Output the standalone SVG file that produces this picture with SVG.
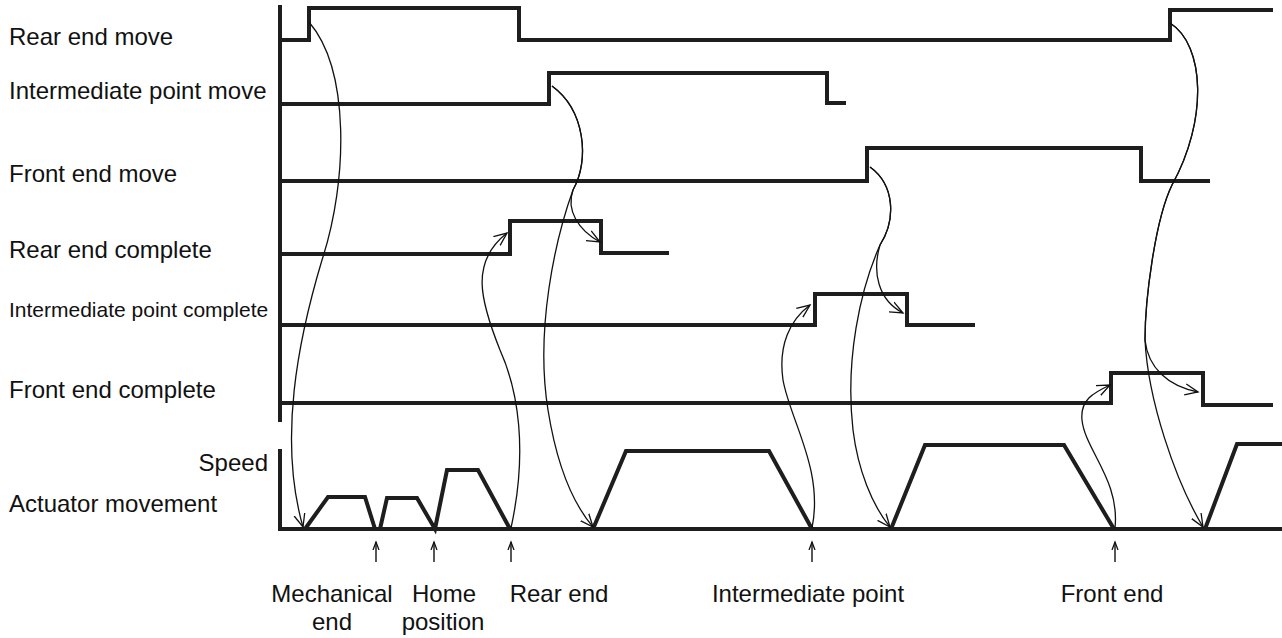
<svg xmlns="http://www.w3.org/2000/svg" width="1282" height="638" viewBox="0 0 1282 638">
<style>
.sig{fill:none;stroke:#1e1e1e;stroke-width:4;stroke-linejoin:miter;stroke-linecap:butt}
.con{fill:none;stroke:#111;stroke-width:1.3}
.tk{fill:none;stroke:#111;stroke-width:1.4}
text{font-family:"Liberation Sans",Arial,sans-serif;font-size:24px;fill:#111}
.sm{font-size:21px}
.c{text-anchor:middle}
</style>
<defs>
<marker id="arr" markerWidth="16" markerHeight="14" refX="13" refY="7" orient="auto" markerUnits="userSpaceOnUse">
<path d="M0,1.5 L13,7 L0,12.5" fill="none" stroke="#111" stroke-width="1.3"/>
</marker>
<marker id="up" markerWidth="10" markerHeight="10" refX="8" refY="4" orient="auto" markerUnits="userSpaceOnUse">
<path d="M0,1 L8,4 L0,7" fill="none" stroke="#111" stroke-width="1.3"/>
</marker>
</defs>
<rect width="1282" height="638" fill="#fff"/>

<g id="axis">
<path class="sig" d="M280,5 V422"/>
<path class="sig" d="M280,449 V529 H1282"/>
</g>

<g id="rear-end-move">
<text x="9" y="45">Rear end move</text>
<path class="sig" d="M280,40 H309 V8 H519 V40 H1170 V10 H1273"/>
</g>
<g id="intermediate-point-move">
<text x="9" y="99">Intermediate point move</text>
<path class="sig" d="M280,104 H549 V73 H827 V103 H846"/>
</g>
<g id="front-end-move">
<text x="9" y="182">Front end move</text>
<path class="sig" d="M280,181 H867 V148 H1141 V181 H1210"/>
</g>
<g id="rear-end-complete">
<text x="9" y="258">Rear end complete</text>
<path class="sig" d="M280,254 H510 V221 H601 V253 H669"/>
</g>
<g id="intermediate-point-complete">
<text class="sm" x="9" y="317">Intermediate point complete</text>
<path class="sig" d="M280,325 H815 V294 H907 V325 H975"/>
</g>
<g id="front-end-complete">
<text x="9" y="398">Front end complete</text>
<path class="sig" d="M280,403 H1111 V373 H1203 V405 H1273"/>
</g>
<g id="actuator-movement">
<text x="268" y="471" text-anchor="end">Speed</text>
<text x="9" y="512">Actuator movement</text>
<path class="sig" d="M305,529 L328,497 H365 L375,529 M380,529 L387,498 H417 L435,529 L447,470 H478 L510,529 M593,529 L626,451 H769 L812,529 M891,529 L925,445 H1064 L1114,529 M1205,529 L1237,444 H1282"/>
</g>

<g id="positions">
<path class="tk" d="M376,562 V542" marker-end="url(#up)"/>
<path class="tk" d="M434,562 V542" marker-end="url(#up)"/>
<path class="tk" d="M511,562 V542" marker-end="url(#up)"/>
<path class="tk" d="M812,562 V542" marker-end="url(#up)"/>
<path class="tk" d="M1115,562 V542" marker-end="url(#up)"/>
<text class="c" x="332" y="602">Mechanical</text>
<text class="c" x="332" y="630">end</text>
<text class="c" x="444" y="602">Home</text>
<text class="c" x="443" y="630">position</text>
<text class="c" x="559" y="602">Rear end</text>
<text class="c" x="808" y="602">Intermediate point</text>
<text class="c" x="1112" y="602">Front end</text>
</g>

<g id="connectors">
<path class="con" d="M309,22 C350,70 348,180 322,260 C298,340 278,440 303,527" marker-end="url(#arr)"/>
<path class="con" d="M552,86 C585,110 590,160 573,190 C566,210 578,230 600,242" marker-end="url(#arr)"/>
<path class="con" d="M552,86 C585,110 590,160 573,190 C555,240 535,330 548,410 C556,460 570,500 593,527" marker-end="url(#arr)"/>
<path class="con" d="M511,528 C528,450 518,390 500,350 C480,300 470,262 507,233" marker-end="url(#arr)"/>
<path class="con" d="M870,167 C895,185 896,220 880,245 C872,272 878,300 903,313" marker-end="url(#arr)"/>
<path class="con" d="M870,167 C895,185 896,220 880,245 C860,290 845,360 853,430 C858,470 872,505 890,527" marker-end="url(#arr)"/>
<path class="con" d="M812,528 C824,470 790,420 783,380 C778,345 790,320 810,305" marker-end="url(#arr)"/>
<path class="con" d="M1170,23 C1205,45 1208,120 1172,185 C1155,220 1145,300 1145,340 C1148,368 1168,386 1198,392" marker-end="url(#arr)"/>
<path class="con" d="M1170,23 C1205,45 1208,120 1172,185 C1155,220 1145,300 1145,340 C1148,400 1175,480 1203,527" marker-end="url(#arr)"/>
<path class="con" d="M1115,528 C1120,480 1085,450 1082,420 C1080,400 1093,393 1110,385" marker-end="url(#arr)"/>
</g>
</svg>
